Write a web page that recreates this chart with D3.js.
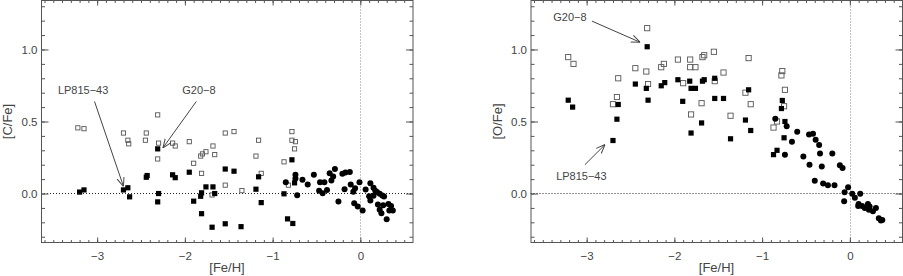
<!DOCTYPE html>
<html>
<head>
<meta charset="utf-8">
<script src="https://cdn.jsdelivr.net/npm/d3@7"></script>
<style>
  body { margin: 0; background: #fff; }
  svg { display: block; }
  text { font-family: "Liberation Sans", Arial, sans-serif; fill: #444; }
</style>
</head>
<body>
<svg width="903" height="276"></svg>
<script>
// [Fe/H], [C/Fe] pairs
var cfeOpen = [[-3.22,0.456],[-3.15,0.45],[-2.70,0.42],[-2.65,0.37],[-2.64,0.345],[-2.44,0.42],[-2.45,0.37],[-2.31,0.546],[-2.30,0.35],[-2.31,0.24],[-2.14,0.35],[-2.11,0.33],[-1.95,0.36],[-1.90,0.21],[-1.82,0.26],[-1.80,0.275],[-1.76,0.29],[-1.68,0.33],[-1.66,0.27],[-1.81,0.14],[-1.69,-0.01],[-1.54,0.42],[-1.44,0.43],[-1.16,0.37],[-1.19,0.26],[-1.13,0.14],[-1.54,0.058],[-1.35,0.02],[-0.78,0.43],[-0.78,0.37],[-0.74,0.36],[-0.75,0.31],[-0.87,0.22],[-0.82,0.058]];
var cfeFilled = [[-3.20,0.01],[-3.15,0.025],[-2.70,0.025],[-2.65,0.04],[-2.63,-0.023],[-2.44,0.113],[-2.43,0.125],[-2.31,0.31],[-2.30,0.0],[-2.31,-0.058],[-2.14,0.13],[-2.11,0.11],[-1.95,0.148],[-1.90,-0.053],[-1.76,0.046],[-1.81,0.005],[-1.82,-0.019],[-1.68,0.046],[-1.66,0.0],[-1.81,-0.14],[-1.69,-0.234],[-1.54,0.17],[-1.44,0.155],[-1.16,0.116],[-1.19,0.03],[-1.13,-0.063],[-1.54,-0.21],[-1.36,-0.23],[-0.78,0.234],[-0.75,0.074],[-0.87,-0.002],[-0.83,-0.176],[-0.77,-0.208]];
var cfeDisk = [[-0.85,0.078],[-0.74,0.13],[-0.74,0.104],[-0.72,-0.012],[-0.66,0.095],[-0.60,0.062],[-0.53,0.13],[-0.46,0.078],[-0.47,0.02],[-0.43,0.002],[-0.41,0.078],[-0.38,0.025],[-0.35,0.14],[-0.33,0.09],[-0.31,0.118],[-0.29,0.17],[-0.25,-0.056],[-0.205,0.137],[-0.18,0.03],[-0.17,0.146],[-0.12,0.15],[-0.11,0.062],[-0.08,0.012],[-0.06,0.037],[-0.07,-0.067],[-0.03,-0.09],[-0.01,0.078],[0.026,-0.118],[0.06,0.028],[0.114,0.072],[0.10,-0.019],[0.114,-0.049],[0.15,0.04],[0.17,0.02],[0.19,0.01],[0.20,-0.076],[0.22,-0.002],[0.25,-0.014],[0.27,-0.021],[0.22,-0.113],[0.24,-0.137],[0.26,-0.081],[0.30,-0.178],[0.32,-0.072],[0.35,-0.086],[0.33,-0.118],[0.37,-0.118],[0.15,-0.016]];

// [Fe/H], [O/Fe] pairs
var ofeOpen = [[-3.21,0.947],[-3.15,0.90],[-2.31,1.148],[-2.64,0.80],[-2.655,0.67],[-2.70,0.62],[-2.445,0.87],[-2.32,0.847],[-2.30,0.76],[-2.15,0.877],[-2.12,0.90],[-1.96,0.93],[-1.82,0.93],[-1.82,0.877],[-1.76,0.877],[-1.68,0.947],[-1.66,0.96],[-1.55,0.984],[-1.90,0.766],[-1.54,0.78],[-1.44,0.84],[-1.69,0.627],[-1.81,0.549],[-1.36,0.54],[-1.154,0.94],[-0.77,0.85],[-0.78,0.82],[-0.74,0.72],[-1.19,0.70],[-1.13,0.62],[-0.75,0.606],[-0.83,0.50],[-0.87,0.458]];
var ofeFilled = [[-2.31,1.019],[-3.21,0.648],[-3.16,0.60],[-2.64,0.618],[-2.655,0.516],[-2.70,0.368],[-2.445,0.76],[-2.32,0.73],[-2.30,0.648],[-2.15,0.748],[-2.11,0.77],[-1.96,0.79],[-1.825,0.78],[-1.81,0.73],[-1.76,0.73],[-1.68,0.78],[-1.66,0.79],[-1.54,0.80],[-1.905,0.64],[-1.54,0.66],[-1.44,0.66],[-1.69,0.49],[-1.81,0.42],[-1.36,0.38],[-1.154,0.72],[-1.19,0.51],[-1.13,0.4375],[-0.77,0.646],[-0.78,0.59],[-0.74,0.50],[-0.75,0.387],[-0.83,0.30],[-0.87,0.27]];
var ofeDisk = [[-0.85,0.519],[-0.72,0.467],[-0.74,0.27],[-0.60,0.428],[-0.66,0.359],[-0.53,0.257],[-0.465,0.41],[-0.42,0.415],[-0.39,0.373],[-0.35,0.336],[-0.46,0.199],[-0.34,0.278],[-0.32,0.1875],[-0.20,0.278],[-0.40,0.088],[-0.305,0.069],[-0.25,0.058],[-0.175,0.058],[-0.114,0.197],[-0.083,0.178],[-0.02,0.044],[-0.06,0.009],[-0.065,-0.053],[0.027,-0.002],[0.057,-0.03],[0.118,-0.002],[0.10,-0.072],[0.14,-0.086],[0.17,-0.10],[0.206,-0.072],[0.225,-0.09],[0.217,-0.113],[0.263,-0.123],[0.297,-0.10],[0.33,-0.171],[0.354,-0.1875],[0.37,-0.183],[0.095,-0.086]];

var xMajor = [-3, -2, -1, 0];
var yMajor = [0, 0.5, 1.0];
var xLabels = ["\u22123", "\u22122", "\u22121", "0"];
var yLabels = ["0.0", "0.5", "1.0"];

// annotations: label position, arrow start, arrow end
var cfeNotes = [
  {text: "LP815\u221243", at: [-3.16, 0.715], from: [-3.03, 0.639], to: [-2.70, 0.049]},
  {text: "G20\u22128", at: [-1.84, 0.715], from: [-1.87, 0.639], to: [-2.25, 0.317]}
];
var ofeNotes = [
  {text: "G20\u22128", at: [-3.19, 1.222], from: [-2.94, 1.197], to: [-2.39, 1.05]},
  {text: "LP815\u221243", at: [-3.06, 0.118], from: [-3.02, 0.20], to: [-2.79, 0.34]}
];

var svg = d3.select("svg");

svg.append("defs").append("marker")
    .attr("id", "arr")
    .attr("viewBox", "0 0 10 10")
    .attr("refX", 10).attr("refY", 5)
    .attr("markerWidth", 9).attr("markerHeight", 9)
    .attr("markerUnits", "userSpaceOnUse")
    .attr("orient", "auto")
  .append("path")
    .attr("d", "M0,1 L10,5 L0,9")
    .attr("fill", "none")
    .attr("stroke", "#444")
    .attr("stroke-width", 1.1);

function panel(left, ytitle, open, filled, disk, notes, openSize) {
  var x = d3.scaleLinear().domain([-3.64, 0.6]).range([left, left + 372]);
  var y = d3.scaleLinear().domain([-0.34, 1.34]).range([242.5, 0.5]);
  var g = svg.append("g");

  // reference lines
  g.append("line")
      .attr("x1", x(-3.64)).attr("x2", x(0.6))
      .attr("y1", y(0)).attr("y2", y(0))
      .attr("stroke", "#222").attr("stroke-dasharray", "1,2");
  g.append("line")
      .attr("x1", Math.round(x(0)) + 0.5).attr("x2", Math.round(x(0)) + 0.5)
      .attr("y1", y(1.34)).attr("y2", y(-0.34))
      .attr("stroke", "#888").attr("stroke-dasharray", "1,2");

  var xMinor = d3.range(-36, 6).map(function(d) { return d / 10; });
  var yMinor = d3.range(-3, 14).map(function(d) { return d / 10; });

  function styleAxis(a) {
    a.select(".domain").remove();
    a.selectAll("line").attr("stroke", "#555");
    a.selectAll("text").attr("font-size", 11.5).attr("font-family", "Liberation Sans, Arial, sans-serif").attr("fill", "#444");
  }

  g.append("g").attr("transform", "translate(0,242.5)")
      .call(d3.axisBottom(x).tickValues(xMajor).tickSize(-5).tickPadding(9)
        .tickFormat(function(d, i) { return xLabels[i]; }))
      .call(styleAxis);
  g.append("g").attr("transform", "translate(0,242.5)")
      .call(d3.axisBottom(x).tickValues(xMinor).tickSize(-2.5).tickFormat(""))
      .call(styleAxis);
  g.append("g").attr("transform", "translate(0,0.5)")
      .call(d3.axisTop(x).tickValues(xMajor).tickSize(-5).tickFormat(""))
      .call(styleAxis);
  g.append("g").attr("transform", "translate(0,0.5)")
      .call(d3.axisTop(x).tickValues(xMinor).tickSize(-2.5).tickFormat(""))
      .call(styleAxis);

  g.append("g").attr("transform", "translate(" + (left + 0.5) + ",0)")
      .call(d3.axisLeft(y).tickValues(yMajor).tickSize(-7).tickPadding(4)
        .tickFormat(function(d, i) { return yLabels[i]; }))
      .call(styleAxis);
  g.append("g").attr("transform", "translate(" + (left + 0.5) + ",0)")
      .call(d3.axisLeft(y).tickValues(yMinor).tickSize(-3.5).tickFormat(""))
      .call(styleAxis);
  g.append("g").attr("transform", "translate(" + (left + 372) + ",0)")
      .call(d3.axisRight(y).tickValues(yMajor).tickSize(-7).tickFormat(""))
      .call(styleAxis);
  g.append("g").attr("transform", "translate(" + (left + 372) + ",0)")
      .call(d3.axisRight(y).tickValues(yMinor).tickSize(-3.5).tickFormat(""))
      .call(styleAxis);

  // frame
  g.append("rect")
      .attr("x", x(-3.64) + 0.5).attr("y", y(1.34))
      .attr("width", x(0.6) - x(-3.64) - 0.5).attr("height", y(-0.34) - y(1.34))
      .attr("fill", "none").attr("stroke", "#555");

  // titles
  g.append("text")
      .attr("x", (x(-3.64) + x(0.6)) / 2).attr("y", 272)
      .attr("text-anchor", "middle").attr("font-size", 13)
      .text("[Fe/H]");
  g.append("text")
      .attr("transform", "translate(" + (left - 29) + "," + ((y(1.34) + y(-0.34)) / 2) + ")rotate(-90)")
      .attr("text-anchor", "middle").attr("font-size", 13)
      .text(ytitle);

  // points
  g.selectAll(".open").data(open).enter().append("rect")
      .attr("x", function(d) { return x(d[0]) - openSize / 2; })
      .attr("y", function(d) { return y(d[1]) - openSize / 2; })
      .attr("width", openSize).attr("height", openSize)
      .attr("fill", "none").attr("stroke", "#555").attr("stroke-width", 0.9);
  g.selectAll(".filled").data(filled).enter().append("rect")
      .attr("x", function(d) { return x(d[0]) - 2.6; })
      .attr("y", function(d) { return y(d[1]) - 2.6; })
      .attr("width", 5.2).attr("height", 5.2)
      .attr("fill", "#000");
  g.selectAll(".disk").data(disk).enter().append("circle")
      .attr("cx", function(d) { return x(d[0]); })
      .attr("cy", function(d) { return y(d[1]); })
      .attr("r", 3)
      .attr("fill", "#000");

  // labels with arrows
  notes.forEach(function(n) {
    g.append("text")
        .attr("x", x(n.at[0])).attr("y", y(n.at[1]))
        .attr("dy", "0.35em").attr("text-anchor", "middle")
        .attr("font-size", 11)
        .text(n.text);
    g.append("line")
        .attr("x1", x(n.from[0])).attr("y1", y(n.from[1]))
        .attr("x2", x(n.to[0])).attr("y2", y(n.to[1]))
        .attr("stroke", "#444").attr("stroke-width", 1)
        .attr("marker-end", "url(#arr)");
  });
}

panel(41, "[C/Fe]", cfeOpen, cfeFilled, cfeDisk, cfeNotes, 4.2);
panel(530.5, "[O/Fe]", ofeOpen, ofeFilled, ofeDisk, ofeNotes, 5.2);
</script>
</body>
</html>
